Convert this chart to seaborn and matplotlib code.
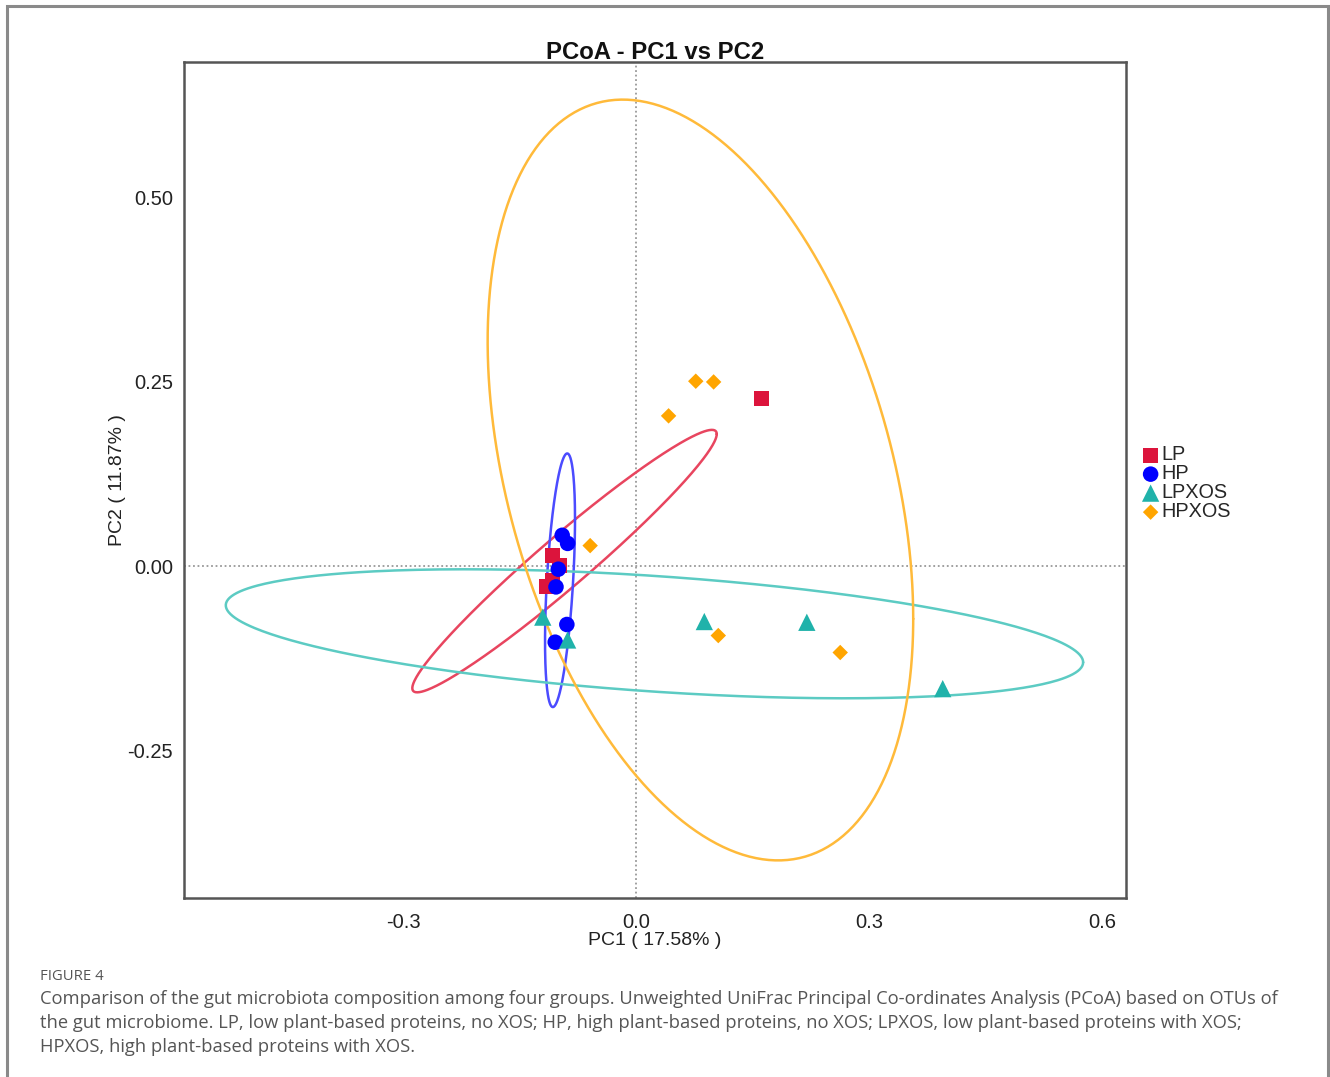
import numpy as np
import pandas as pd
import matplotlib
matplotlib.use("Agg")
import matplotlib.pyplot as plt
import seaborn as sns
from matplotlib.patches import Rectangle

# ---------------- data ----------------
groups = ["LP", "HP", "LPXOS", "HPXOS"]

lp_x = [0.162, -0.107, -0.098, -0.108, -0.115]
lp_y = [0.227, 0.014, 0.001, -0.019, -0.027]

hp_x = [-0.095, -0.088, -0.100, -0.103, -0.089, -0.104]
hp_y = [0.042, 0.031, -0.004, -0.028, -0.079, -0.103]

lpxos_x = [-0.120, -0.088, 0.088, 0.220, 0.395]
lpxos_y = [-0.069, -0.100, -0.075, -0.076, -0.166]

hpxos_x = [0.077, 0.100, 0.042, -0.059, 0.106, 0.263]
hpxos_y = [0.251, 0.250, 0.204, 0.028, -0.094, -0.117]

# confidence ellipses: centre, half extent in x, half extent in y, correlation
ell_cx = [-0.092, -0.0978, 0.0238, 0.083]
ell_cy = [0.007, -0.019, -0.0916, 0.117]
ell_sx = [0.196, 0.0193, 0.552, 0.274]
ell_sy = [0.178, 0.172, 0.0875, 0.516]
ell_r = [0.968, 0.48, -0.442, -0.365]

x_ticks = [-0.3, 0.0, 0.3, 0.6]
x_tick_labels = ["-0.3", "0.0", "0.3", "0.6"]
y_ticks = [-0.25, 0.0, 0.25, 0.50]
y_tick_labels = ["-0.25", "0.00", "0.25", "0.50"]

title = "PCoA - PC1 vs PC2"
xlabel = "PC1 ( 17.58% )"
ylabel = "PC2 ( 11.87% )"
fig_label = "FIGURE 4"
caption_lines = [
    "Comparison of the gut microbiota composition among four groups. Unweighted UniFrac Principal Co-ordinates Analysis (PCoA) based on OTUs of",
    "the gut microbiome. LP, low plant-based proteins, no XOS; HP, high plant-based proteins, no XOS; LPXOS, low plant-based proteins with XOS;",
    "HPXOS, high plant-based proteins with XOS.",
]

# ---------------- styling ----------------
colors = {"LP": "#DC143C", "HP": "#0000FF", "LPXOS": "#20B2AA", "HPXOS": "#FFA500"}
ell_colors = {"LP": "#E8455F", "HP": "#4B4BFF", "LPXOS": "#5CCBC3", "HPXOS": "#FFBA3A"}
markers = {"LP": "s", "HP": "o", "LPXOS": "^", "HPXOS": "D"}
msize = {"LP": 115, "HP": 125, "LPXOS": 155, "HPXOS": 62}

sns.set_theme(style="white")
plt.rcParams["font.family"] = ["Liberation Sans", "DejaVu Sans"]

xs = [lp_x, hp_x, lpxos_x, hpxos_x]
ys = [lp_y, hp_y, lpxos_y, hpxos_y]
df = pd.concat(
    [pd.DataFrame({"PC1": x, "PC2": y, "group": g}) for g, x, y in zip(groups, xs, ys)],
    ignore_index=True,
)

W, H = 1330, 1077
fig = plt.figure(figsize=(W / 100, H / 100), dpi=100)
ax = fig.add_axes([184 / W, 1 - 898 / H, (1126 - 184) / W, (898 - 62) / H])

# reference lines
ax.axvline(0, color="#999999", lw=1.3, ls=(0, (1, 1.5)), zorder=1)
ax.axhline(0, color="#999999", lw=1.3, ls=(0, (1, 1.5)), zorder=1)

# ellipses
t = np.linspace(0, 2 * np.pi, 400)
for i, g in enumerate(groups):
    ex = ell_cx[i] + ell_sx[i] * np.cos(t)
    ey = ell_cy[i] + ell_sy[i] * (ell_r[i] * np.cos(t) + np.sqrt(1 - ell_r[i] ** 2) * np.sin(t))
    ax.plot(ex, ey, color=ell_colors[g], lw=1.8, zorder=2)

# points
for g in groups:
    sub = df[df["group"] == g]
    sns.scatterplot(data=sub, x="PC1", y="PC2", color=colors[g], marker=markers[g],
                    s=msize[g], edgecolor="none", linewidth=0, label=g, ax=ax, zorder=3)

ax.set_xlim(-0.582, 0.631)
ax.set_ylim(-0.450, 0.684)
ax.set_xticks(x_ticks)
ax.set_xticklabels(x_tick_labels)
ax.set_yticks(y_ticks)
ax.set_yticklabels(y_tick_labels)
ax.tick_params(axis="both", direction="out", length=5, width=1.2, color="#555555",
               labelsize=14.5, labelcolor="#222222", pad=3)
ax.tick_params(axis="x", pad=6)

for side in ["left", "bottom", "top", "right"]:
    ax.spines[side].set_color("#555555")
    ax.spines[side].set_linewidth(1.8)

ax.set_title(title, fontsize=17.2, fontweight="bold", color="#111111", pad=2)
ax.set_xlabel(xlabel, fontsize=14, color="#222222", labelpad=0)
ax.set_ylabel(ylabel, fontsize=14, color="#222222", labelpad=1)

leg = ax.legend(loc="center left", bbox_to_anchor=(1.004, 0.496), frameon=False,
                fontsize=14.3, handletextpad=0.0, labelspacing=0.0, borderpad=0,
                handlelength=1.1, markerscale=1.0)

# outer frame
fig.add_artist(Rectangle((7 / W, -0.05), (1328 - 7) / W, 1.05 - 6 / H, transform=fig.transFigure,
                         fill=False, edgecolor="#8a8a8a", lw=2.2))

# caption
fig.text(40 / W, 1 - 976 / H, fig_label, fontsize=10.7, color="#555555",
         family=["Open Sans", "DejaVu Sans"], va="center", ha="left")
for k, line in enumerate(caption_lines):
    fig.text(40 / W, 1 - (999 + 24 * k) / H, line, fontsize=13.2, color="#555555",
             family=["Open Sans", "DejaVu Sans"], va="center", ha="left")

fig.savefig("out.png", dpi=100)
